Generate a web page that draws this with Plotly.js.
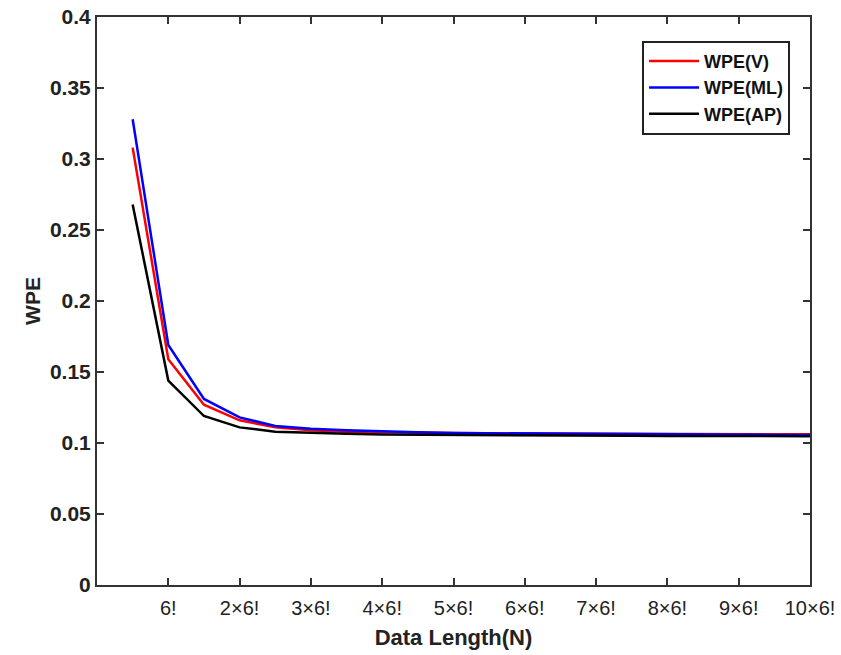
<!DOCTYPE html>
<html>
<head>
<meta charset="utf-8">
<script src="https://cdn.plot.ly/plotly-3.0.1.min.js"></script>
<style>html,body{margin:0;padding:0;background:#fff;}#chart{width:841px;height:655px;}</style>
</head>
<body>
<div id="chart"></div>
<script>
// x in units of 6!
const xMult = [0.5,1,1.5,2,2.5,3,3.5,4,4.5,5,5.5,6,6.5,7,7.5,8,8.5,9,9.5,10];
const wpeV  = [0.308,0.159,0.127,0.116,0.111,0.109,0.108,0.1075,0.1072,0.107,0.1068,0.1067,0.1066,0.1065,0.1064,0.1063,0.1063,0.1062,0.1062,0.1061];
const wpeML = [0.328,0.169,0.131,0.118,0.112,0.110,0.109,0.108,0.1075,0.107,0.1068,0.1066,0.1064,0.1062,0.1061,0.106,0.1059,0.1058,0.1057,0.1056];
const wpeAP = [0.268,0.144,0.119,0.111,0.108,0.107,0.1065,0.106,0.1058,0.1056,0.1055,0.1054,0.1053,0.1052,0.1051,0.105,0.105,0.1049,0.1049,0.1048];
const xTickVals = [1,2,3,4,5,6,7,8,9,10];
const xTickText = ['6!','2×6!','3×6!','4×6!','5×6!','6×6!','7×6!','8×6!','9×6!','10×6!'];
const yTickVals = [0,0.05,0.1,0.15,0.2,0.25,0.3,0.35,0.4];
const yTickText = ['0','0.05','0.1','0.15','0.2','0.25','0.3','0.35','0.4'];

const traces = [
  {x:xMult, y:wpeV, name:'WPE(V)', mode:'lines', line:{color:'#ff0000', width:2.5}},
  {x:xMult, y:wpeML, name:'WPE(ML)', mode:'lines', line:{color:'#0000ff', width:2.5}},
  {x:xMult, y:wpeAP, name:'WPE(AP)', mode:'lines', line:{color:'#000000', width:2.5}}
];
const axisLine = '#333333';
const fam = 'Arial, Liberation Sans, sans-serif';
const layout = {
  width:841, height:655,
  margin:{l:97, r:31, t:17, b:70},
  paper_bgcolor:'#ffffff', plot_bgcolor:'#ffffff',
  showlegend:true,
  legend:{x:0.972, y:0.958, xanchor:'right', yanchor:'top',
    bordercolor:'#222', borderwidth:2, bgcolor:'#fff',
    font:{family:fam, size:18, color:'#111', weight:'bold'},
    tracegroupgap:0, itemwidth:50},
  xaxis:{range:[0,10], tickvals:xTickVals, ticktext:xTickText,
    ticks:'inside', ticklen:7, tickwidth:2, tickcolor:axisLine,
    showline:true, linecolor:axisLine, linewidth:2, mirror:'ticks',
    showgrid:false, zeroline:false, ticklabelstandoff:4,
    tickfont:{family:fam, size:20, color:'#222'},
    title:{text:'Data Length(N)', standoff:12, font:{family:fam, size:22, color:'#222', weight:'bold'}}},
  yaxis:{range:[0,0.4], tickvals:yTickVals, ticktext:yTickText,
    ticks:'inside', ticklen:7, tickwidth:2, tickcolor:axisLine,
    showline:true, linecolor:axisLine, linewidth:2, mirror:'ticks',
    showgrid:false, zeroline:false,
    tickfont:{family:fam, size:21, color:'#222', weight:'bold'},
    title:{text:'WPE', standoff:4, font:{family:fam, size:21, color:'#222', weight:'bold'}}}
};
Plotly.newPlot('chart', traces, layout, {displayModeBar:false, staticPlot:true});
</script>
</body>
</html>
